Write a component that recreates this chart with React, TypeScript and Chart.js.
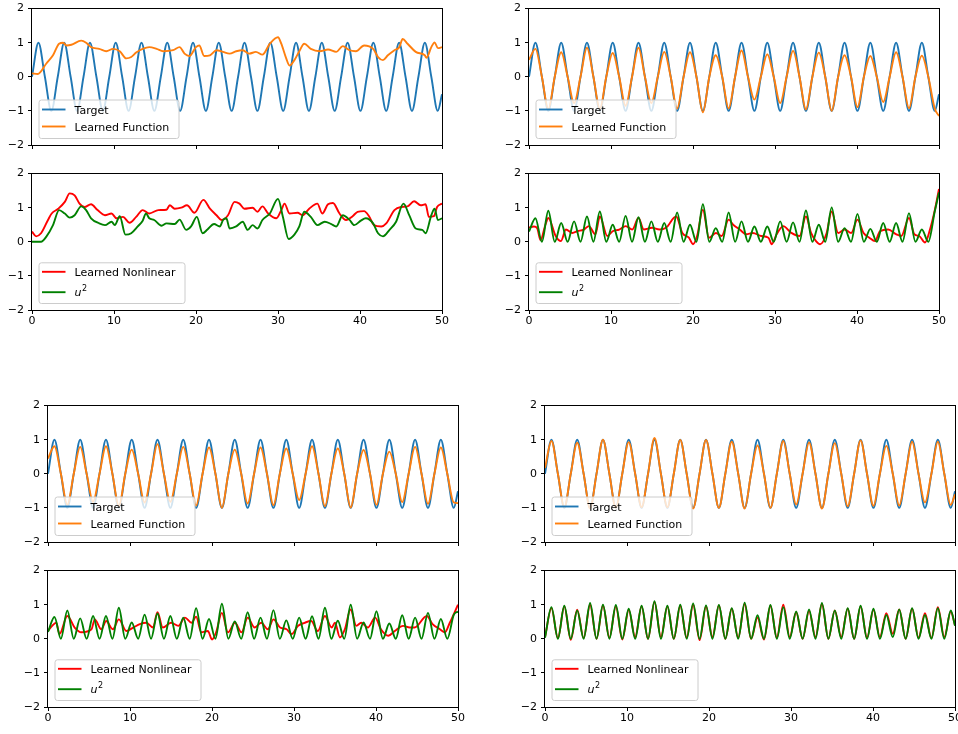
import React, { useEffect, useRef } from "react";
import { Chart, registerables } from "chart.js";
Chart.register(...registerables);

// quarter-period sample times (shared by the sine-locked series)
const QT = [
  0, 0.785, 1.571, 2.356, 3.142, 3.927, 4.712, 5.498, 6.283, 7.069, 7.854, 8.639,
  9.425, 10.21, 10.996, 11.781, 12.566, 13.352, 14.137, 14.923, 15.708, 16.493, 17.279, 18.064,
  18.85, 19.635, 20.42, 21.206, 21.991, 22.777, 23.562, 24.347, 25.133, 25.918, 26.704, 27.489,
  28.274, 29.06, 29.845, 30.631, 31.416, 32.201, 32.987, 33.772, 34.558, 35.343, 36.128, 36.914,
  37.699, 38.485, 39.27, 40.055, 40.841, 41.626, 42.412, 43.197, 43.982, 44.768, 45.553, 46.338,
  47.124, 47.909, 48.695, 49.48, 50,
];

const TARGET_Y = [
  0, 1, 0, -1, 0, 1, 0, -1, 0, 1, 0, -1, 0, 1, 0, -1,
  0, 1, 0, -1, 0, 1, 0, -1, 0, 1, 0, -1, 0, 1, 0, -1,
  0, 1, 0, -1, 0, 1, 0, -1, 0, 1, 0, -1, 0, 1, 0, -1,
  0, 1, 0, -1, 0, 1, 0, -1, 0, 1, 0, -1, 0, 1, 0, -1, -0.51,
];

// ---------- top-left image ----------
const TL_FUNC_T = [0, 0.7, 1.75, 2.56, 3.3, 3.8, 4.2, 4.8, 6.0, 6.6, 7.2, 8.2, 9.06, 9.9, 10.7, 11.5, 12.1, 12.7, 13.5, 14.3, 15.2, 16.0, 17.2, 18.0, 18.6, 19.2, 20.0, 20.4, 21.0, 21.7, 22.5, 23.3, 24.1, 24.9, 25.7, 26.5, 27.3, 28.1, 29.0, 30.0, 30.4, 31.0, 31.4, 32.0, 32.6, 33.2, 34.0, 35.1, 36.1, 37.1, 37.9, 38.7, 39.5, 40.5, 41.6, 42.2, 42.8, 43.4, 44.2, 44.8, 45.2, 45.8, 46.8, 47.9, 48.1, 48.7, 49.1, 49.5, 50];
const TL_FUNC_Y = [0.1, 0.08, 0.39, 0.63, 0.97, 1.0, 0.92, 0.94, 1.06, 1.0, 0.87, 0.82, 0.75, 0.82, 0.75, 0.54, 0.58, 0.71, 0.82, 0.87, 0.82, 0.75, 0.78, 0.87, 0.68, 0.61, 0.87, 0.92, 0.61, 0.63, 0.78, 0.73, 0.68, 0.75, 0.78, 0.68, 0.73, 0.65, 0.97, 1.16, 0.97, 0.54, 0.33, 0.49, 0.75, 0.97, 0.82, 0.75, 0.8, 0.73, 0.9, 0.78, 0.75, 0.92, 0.82, 0.58, 0.49, 0.63, 0.78, 0.87, 1.11, 0.97, 0.73, 0.63, 0.56, 0.87, 1.01, 0.84, 0.87];

const TL_NL_T = [0, 0.5, 1.1, 1.95, 2.4, 3.2, 4.0, 4.6, 5.2, 5.8, 6.4, 7.2, 8.0, 8.9, 9.7, 10.3, 11.1, 11.9, 12.7, 13.5, 14.3, 15.4, 16.4, 16.8, 17.4, 18.2, 18.9, 19.8, 20.9, 21.7, 22.5, 23.1, 23.9, 24.7, 25.3, 25.9, 26.9, 27.5, 28.1, 28.8, 29.8, 30.4, 30.8, 31.4, 32.4, 33.0, 33.8, 34.8, 35.4, 36.1, 36.7, 37.5, 38.3, 39.1, 39.7, 40.5, 41.1, 41.7, 42.6, 43.2, 44.2, 45.0, 45.8, 46.6, 47.4, 48.0, 48.4, 49.0, 49.4, 50];
const TL_NL_Y = [0.3, 0.16, 0.25, 0.64, 0.83, 0.97, 1.17, 1.42, 1.36, 1.12, 1.02, 1.1, 0.93, 0.78, 0.83, 0.69, 0.73, 0.56, 0.73, 0.93, 0.83, 0.93, 0.94, 1.07, 0.97, 1.0, 1.07, 0.85, 1.23, 0.97, 0.78, 0.64, 0.78, 1.17, 1.12, 0.97, 1.0, 0.88, 1.04, 0.83, 0.69, 0.93, 1.12, 0.83, 0.85, 0.78, 0.97, 1.12, 0.83, 1.1, 1.14, 0.83, 0.64, 0.75, 0.88, 0.9, 0.75, 0.49, 0.45, 0.54, 0.93, 1.02, 1.04, 1.19, 1.07, 1.1, 0.73, 0.75, 1.02, 1.12];

const TL_U2_T = [0, 1.1, 1.75, 2.56, 3.3, 4.0, 4.6, 5.2, 6.0, 6.6, 7.2, 8.2, 8.9, 9.7, 10.1, 10.7, 11.4, 12.1, 12.9, 13.5, 13.9, 14.3, 14.9, 15.8, 16.4, 17.4, 18.0, 18.8, 19.4, 20.1, 20.8, 21.4, 22.2, 22.9, 23.3, 23.7, 24.1, 24.9, 25.7, 26.3, 26.9, 27.5, 28.1, 29.0, 30.0, 30.6, 31.3, 32.0, 32.6, 33.2, 34.0, 34.8, 35.7, 36.5, 37.1, 37.9, 38.7, 39.3, 40.1, 40.7, 41.6, 42.2, 42.8, 43.6, 44.4, 45.3, 46.0, 46.8, 47.6, 48.0, 48.7, 49.1, 49.5, 50];
const TL_U2_Y = [0, 0, 0.15, 0.49, 0.93, 0.83, 0.71, 0.78, 1.04, 0.93, 0.69, 0.54, 0.49, 0.59, 0.49, 0.75, 0.21, 0.25, 0.45, 0.62, 0.83, 0.69, 0.64, 0.47, 0.54, 0.52, 0.65, 0.35, 0.45, 0.73, 0.25, 0.36, 0.52, 0.45, 0.64, 0.69, 0.39, 0.45, 0.59, 0.35, 0.49, 0.39, 0.64, 0.83, 1.26, 0.73, 0.08, 0.21, 0.45, 0.88, 0.73, 0.49, 0.59, 0.52, 0.45, 0.78, 0.65, 0.49, 0.62, 0.69, 0.54, 0.25, 0.16, 0.35, 0.59, 1.12, 0.78, 0.39, 0.35, 0.25, 0.78, 0.97, 0.64, 0.69];

// ---------- top-right image ----------
const TR_FUNC_Y = [
  0.5, 0.82, 0, -0.95, 0, 0.72, 0, -0.77, 0, 0.85, 0, -0.95, 0, 0.7, 0, -0.85,
  0, 0.85, 0, -0.77, 0, 0.73, 0, -0.93, 0, 0.72, 0, -1.04, 0, 0.63, 0, -0.93,
  0, 0.77, 0, -0.67, 0, 0.66, 0, -0.77, 0, 0.76, 0, -0.96, 0, 0.71, 0, -1.0,
  0, 0.63, 0, -0.89, 0, 0.61, 0, -0.74, 0, 0.72, 0, -0.92, 0, 0.62, 0, -0.93, -1.15,
];
const TR_U2_Y = [
  0.3, 0.69, 0, 0.91, 0, 0.55, 0, 0.6, 0, 0.74, 0, 0.89, 0, 0.5, 0, 0.76,
  0, 0.72, 0, 0.6, 0, 0.55, 0, 0.86, 0, 0.5, 0, 1.1, 0, 0.4, 0, 0.86,
  0, 0.6, 0, 0.45, 0, 0.45, 0, 0.6, 0, 0.57, 0, 0.92, 0, 0.5, 0, 1.01,
  0, 0.4, 0, 0.82, 0, 0.38, 0, 0.55, 0, 0.55, 0, 0.84, 0, 0.36, 0, 0.89, 1.45,
];
const TR_NL_T = [0, 0.6, 1.0, 1.4, 2.0, 2.36, 3.25, 3.9, 4.5, 5.3, 5.9, 6.7, 7.3, 8.1, 8.64, 9.55, 10.2, 11.0, 11.8, 12.6, 13.35, 14.0, 15.0, 15.9, 16.7, 17.95, 18.7, 19.5, 20.0, 20.5, 21.2, 21.95, 22.8, 23.5, 24.35, 24.9, 25.7, 26.5, 27.3, 28.3, 29.2, 29.6, 30.2, 31.0, 32.0, 33.0, 33.77, 34.4, 35.0, 35.5, 36.3, 36.9, 37.7, 38.5, 39.3, 40.06, 40.8, 41.5, 42.2, 42.8, 43.8, 44.8, 45.4, 46.34, 47.0, 47.6, 48.3, 48.9, 49.5, 50];
const TR_NL_Y = [0.42, 0.45, 0.4, 0.05, 0.5, 0.7, 0.17, 0.02, 0.36, 0.26, 0.31, 0.36, 0.46, 0.22, 0.74, 0.17, 0.31, 0.36, 0.46, 0.36, 0.7, 0.36, 0.41, 0.36, 0.41, 0.74, 0.26, 0.12, -0.07, 0.17, 0.94, 0.12, 0.26, 0.17, 0.65, 0.5, 0.36, 0.22, 0.26, 0.17, 0.12, -0.07, 0.22, 0.46, 0.26, 0.17, 0.74, 0.26, 0.02, -0.07, 0.26, 0.89, 0.26, 0.36, 0.26, 0.65, 0.26, 0.12, 0.02, 0.31, 0.36, 0.22, 0.17, 0.7, 0.22, 0.17, -0.02, 0.36, 0.94, 1.55];

// ---------- bottom-left image ----------
const BL_FUNC_Y = [
  0.45, 0.81, 0, -0.91, 0, 0.79, 0, -0.82, 0, 0.81, 0, -0.95, 0, 0.71, 0, -0.84,
  0, 0.87, 0, -0.82, 0, 0.79, 0, -0.93, 0, 0.77, 0, -1.0, 0, 0.71, 0, -0.87,
  0, 0.77, 0, -0.92, 0, 0.74, 0, -0.77, 0, 0.81, 0, -0.95, 0, 0.74, 0, -0.99,
  0, 0.7, 0, -0.91, 0, 0.65, 0, -0.83, 0, 0.79, 0, -0.88, 0, 0.77, 0, -0.84, -0.86,
];
const BL_U2_Y = [
  0.2, 0.64, 0, 0.83, 0, 0.6, 0, 0.67, 0, 0.67, 0, 0.91, 0, 0.48, 0, 0.71,
  0, 0.74, 0, 0.67, 0, 0.62, 0, 0.9, 0, 0.58, 0, 1.03, 0, 0.51, 0, 0.78,
  0, 0.62, 0, 0.84, 0, 0.54, 0, 0.62, 0, 0.66, 0, 0.91, 0, 0.53, 0, 1.0,
  0, 0.48, 0, 0.81, 0, 0.45, 0, 0.69, 0, 0.62, 0, 0.76, 0, 0.58, 0, 0.7, 0.8,
];
const BL_NL_T = [0, 0.5, 1.0, 1.4, 2.36, 3.25, 4.07, 5.3, 5.7, 6.5, 7.1, 7.9, 8.64, 9.55, 10.4, 11.2, 12.0, 12.8, 13.35, 14.0, 15.0, 15.9, 16.7, 17.5, 18.06, 18.7, 19.5, 20.0, 20.5, 21.2, 21.95, 22.8, 23.6, 24.35, 25.2, 26.0, 26.8, 27.5, 28.3, 29.1, 29.7, 30.5, 31.3, 32.1, 32.9, 33.77, 34.6, 35.0, 35.6, 36.2, 36.9, 37.6, 38.2, 39.0, 39.9, 40.6, 41.5, 42.3, 43.3, 44.1, 44.7, 46.2, 46.9, 47.8, 48.4, 49.0, 50];
const BL_NL_Y = [0.23, 0.38, 0.47, 0.14, 0.67, 0.33, 0.19, 0.28, 0.57, 0.28, 0.52, 0.28, 0.57, 0.23, 0.33, 0.43, 0.47, 0.33, 0.78, 0.33, 0.47, 0.38, 0.62, 0.47, 0.65, 0.19, 0.23, -0.02, 0.19, 0.76, 0.19, 0.47, 0.19, 0.62, 0.33, 0.47, 0.28, 0.57, 0.33, 0.28, 0.14, 0.38, 0.47, 0.52, 0.23, 0.67, 0.33, 0.47, 0.04, 0.28, 0.86, 0.38, 0.47, 0.33, 0.62, 0.28, 0.09, 0.23, 0.38, 0.33, 0.33, 0.67, 0.43, 0.28, 0.19, 0.47, 1.0];

// ---------- bottom-right image ----------
const BR_FUNC_Y = [
  0.17, 0.96, 0, -0.98, 0, 0.91, 0, -1.02, 0, 1.0, 0, -1.0, 0, 0.93, 0, -0.98,
  0, 1.05, 0, -0.98, 0, 0.99, 0, -1.02, 0, 0.99, 0, -1.0, 0, 0.94, 0, -1.02,
  0, 0.83, 0, -1.0, 0, 0.96, 0, -0.9, 0, 0.92, 0, -1.02, 0, 0.9, 0, -0.95,
  0, 0.98, 0, -0.94, 0, 0.82, 0, -0.93, 0, 0.94, 0, -0.84, 0, 0.94, 0, -0.91, -0.6,
];
const BR_U2_Y = [
  0.03, 0.93, 0, 0.97, 0, 0.83, 0, 1.05, 0, 1.0, 0, 0.99, 0, 0.88, 0, 0.97,
  0, 1.1, 0, 0.97, 0, 1.0, 0, 1.04, 0, 0.98, 0, 0.99, 0, 0.9, 0, 1.06,
  0, 0.69, 0, 0.99, 0, 0.93, 0, 0.8, 0, 0.86, 0, 1.05, 0, 0.83, 0, 0.9,
  0, 0.97, 0, 0.88, 0, 0.7, 0.05, 0.86, 0, 0.9, 0, 0.7, 0, 0.9, 0, 0.83, 0.38,
];
const BR_NL_Y = [
  0.05, 0.9, 0.02, 0.95, -0.03, 0.85, 0.02, 1.0, 0, 0.98, 0.03, 0.95, -0.02, 0.85, 0.05, 0.95,
  0, 1.08, 0.05, 0.95, 0, 0.97, 0.03, 1.0, -0.04, 0.95, 0.05, 0.98, 0, 0.88, 0.03, 1.02,
  0, 0.62, -0.02, 0.97, 0.03, 1.0, 0.05, 0.78, 0, 0.82, 0.05, 1.02, 0, 0.83, 0.05, 0.88,
  0, 0.95, 0.03, 0.85, 0.05, 0.75, 0.15, 0.86, 0, 0.88, 0.03, 0.75, 0.02, 0.93, 0.05, 0.8, 0.4,
];

const X_TICKS = [0, 10, 20, 30, 40, 50];
const Y_TICKS = [-2, -1, 0, 1, 2];

const BLUE = "#1f77b4";
const ORANGE = "#ff7f0e";
const RED = "#ff0000";
const GREEN = "#008000";
const FONT = '"DejaVu Sans", "Liberation Sans", sans-serif';
const FS = 11;
const LW = 1.9;

const PADL = 8;
const PADT = 8;
const PADR = 12;
const YW = 32;
const XH = 22;

type Series = { t: number[]; y: number[]; color: string };
type LegItem = { label: string; color: string; math?: boolean };

const mplPlugin = {
  id: "mplFrame",
  afterDraw(chart: any, _args: any, opts: any) {
    const { ctx, chartArea: ca } = chart;
    ctx.save();
    ctx.strokeStyle = "#000";
    ctx.lineWidth = 1;
    ctx.strokeRect(Math.round(ca.left) - 0.5, Math.round(ca.top) - 0.5, Math.round(ca.right - ca.left) + 1, Math.round(ca.bottom - ca.top) + 1);
    const items: LegItem[] = opts.items || [];
    if (items.length) {
      const w = opts.w, h = opts.h, rows = opts.rows;
      const x0 = ca.left + 7;
      const y0 = ca.bottom - 6.5 - h;
      const r = 2.5;
      ctx.beginPath();
      ctx.moveTo(x0 + r, y0);
      ctx.lineTo(x0 + w - r, y0);
      ctx.quadraticCurveTo(x0 + w, y0, x0 + w, y0 + r);
      ctx.lineTo(x0 + w, y0 + h - r);
      ctx.quadraticCurveTo(x0 + w, y0 + h, x0 + w - r, y0 + h);
      ctx.lineTo(x0 + r, y0 + h);
      ctx.quadraticCurveTo(x0, y0 + h, x0, y0 + h - r);
      ctx.lineTo(x0, y0 + r);
      ctx.quadraticCurveTo(x0, y0, x0 + r, y0);
      ctx.closePath();
      ctx.fillStyle = "rgba(255,255,255,0.8)";
      ctx.fill();
      ctx.strokeStyle = "#cccccc";
      ctx.lineWidth = 1;
      ctx.stroke();
      items.forEach((it, i) => {
        const ly = y0 + rows[i];
        ctx.strokeStyle = it.color;
        ctx.lineWidth = LW;
        ctx.beginPath();
        ctx.moveTo(x0 + 3, ly);
        ctx.lineTo(x0 + 26.5, ly);
        ctx.stroke();
        ctx.fillStyle = "#000";
        ctx.textAlign = "left";
        ctx.textBaseline = "alphabetic";
        const tx = x0 + 35.5;
        if (it.math) {
          ctx.font = `italic ${FS}px ${FONT}`;
          ctx.fillText("u", tx, ly + 3.5);
          const uw = ctx.measureText("u").width;
          ctx.font = `${Math.round(FS * 0.72)}px ${FONT}`;
          ctx.fillText("2", tx + uw + 0.5, ly - 1.5);
        } else {
          ctx.font = `${FS}px ${FONT}`;
          ctx.fillText(it.label, tx, ly + 4);
        }
      });
    }
    ctx.restore();
  },
};

function Panel(props: {
  left: number;
  top: number;
  width: number;
  height: number;
  series: Series[];
  legend: LegItem[];
  legendBox: { w: number; h: number; rows: number[] };
  xLabels: boolean;
}) {
  const { left, top, width, height, series, legend, legendBox, xLabels } = props;
  const ref = useRef<HTMLCanvasElement>(null);
  const cw = PADL + YW + width + PADR;
  const ch = PADT + height + XH;
  useEffect(() => {
    if (!ref.current) return;
    const chart = new Chart(ref.current, {
      type: "line",
      data: {
        datasets: series.map((s) => ({
          data: s.t.map((x, i) => ({ x, y: s.y[i] })),
          borderColor: s.color,
          borderWidth: LW,
          pointRadius: 0,
          cubicInterpolationMode: "monotone",
          fill: false,
        })),
      },
      options: {
        animation: false,
        responsive: false,
        devicePixelRatio: 1,
        layout: { padding: { left: PADL, top: PADT, right: PADR, bottom: 0 } },
        plugins: {
          legend: { display: false },
          tooltip: { enabled: false },
          mplFrame: { items: legend, ...legendBox },
        } as any,
        scales: {
          x: {
            type: "linear",
            min: 0,
            max: 50,
            afterFit: (s: any) => {
              s.height = XH;
            },
            afterBuildTicks: (s: any) => {
              s.ticks = X_TICKS.map((v) => ({ value: v }));
            },
            ticks: {
              display: xLabels,
              padding: 1,
              color: "#000",
              maxRotation: 0,
              font: { family: FONT, size: FS },
            },
            grid: { display: true, drawOnChartArea: false, drawTicks: true, tickLength: 4, color: "#000" },
            border: { display: false },
          },
          y: {
            type: "linear",
            min: -2,
            max: 2,
            afterFit: (s: any) => {
              s.width = YW;
            },
            afterBuildTicks: (s: any) => {
              s.ticks = Y_TICKS.map((v) => ({ value: v }));
            },
            ticks: {
              padding: 4,
              color: "#000",
              font: { family: FONT, size: FS },
              callback: (v: any) => (Number(v) < 0 ? "\u2212" + Math.abs(Number(v)) : String(v)),
            },
            grid: { display: true, drawOnChartArea: false, drawTicks: true, tickLength: 4, color: "#000" },
            border: { display: false },
          },
        },
      },
      plugins: [mplPlugin as any],
    });
    return () => chart.destroy();
  }, []);
  return (
    <canvas
      ref={ref}
      width={cw}
      height={ch}
      style={{ position: "absolute", left: left - PADL - YW, top: top - PADT, width: cw, height: ch }}
    />
  );
}

const UPPER_LEG: LegItem[] = [
  { label: "Target", color: BLUE },
  { label: "Learned Function", color: ORANGE },
];
const LOWER_LEG: LegItem[] = [
  { label: "Learned Nonlinear", color: RED },
  { label: "u2", color: GREEN, math: true },
];
const UPPER_BOX = { w: 140, h: 38.5, rows: [9.5, 26.5] };
const LOWER_BOX = { w: 146, h: 40.7, rows: [9, 29.4] };

const GROUPS = [
  { left: 32, top: 6, func: { t: TL_FUNC_T, y: TL_FUNC_Y }, nl: { t: TL_NL_T, y: TL_NL_Y }, u2: { t: TL_U2_T, y: TL_U2_Y } },
  { left: 529, top: 6, func: { t: QT, y: TR_FUNC_Y }, nl: { t: TR_NL_T, y: TR_NL_Y }, u2: { t: QT, y: TR_U2_Y } },
  { left: 48, top: 403, func: { t: QT, y: BL_FUNC_Y }, nl: { t: BL_NL_T, y: BL_NL_Y }, u2: { t: QT, y: BL_U2_Y } },
  { left: 545, top: 403, func: { t: QT, y: BR_FUNC_Y }, nl: { t: QT, y: BR_NL_Y }, u2: { t: QT, y: BR_U2_Y } },
];

export default function App() {
  return (
    <div style={{ position: "absolute", left: 0, top: 0, width: 958, height: 734, overflow: "hidden", background: "#fff" }}>
      {GROUPS.map((g, i) => (
        <React.Fragment key={i}>
          <Panel
            left={g.left}
            top={g.top}
            width={410}
            height={139}
            series={[
              { t: g.func.t, y: g.func.y, color: ORANGE },
              { t: QT, y: TARGET_Y, color: BLUE },
            ]}
            legend={UPPER_LEG}
            legendBox={UPPER_BOX}
            xLabels={false}
          />
          <Panel
            left={g.left}
            top={g.top + 165}
            width={410}
            height={139}
            series={[
              { t: g.u2.t, y: g.u2.y, color: GREEN },
              { t: g.nl.t, y: g.nl.y, color: RED },
            ]}
            legend={LOWER_LEG}
            legendBox={LOWER_BOX}
            xLabels={true}
          />
        </React.Fragment>
      ))}
    </div>
  );
}
